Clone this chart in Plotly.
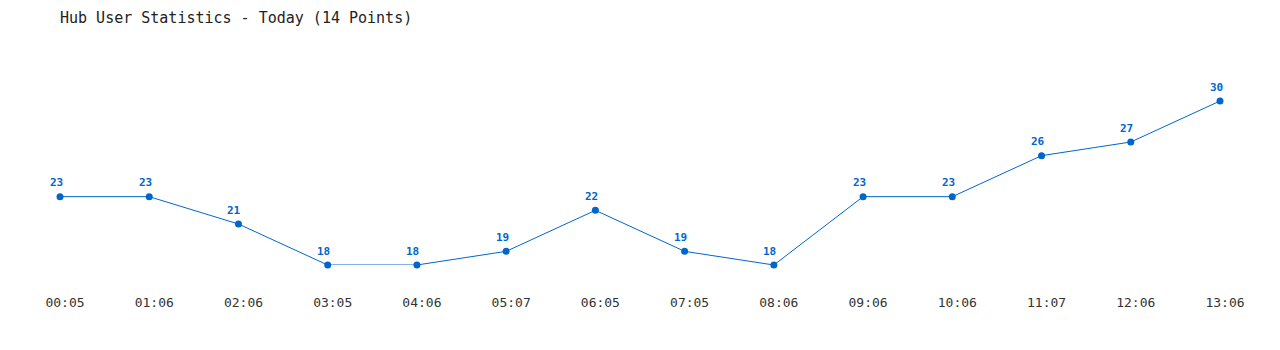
import plotly.graph_objects as go

times = ["00:05", "01:06", "02:06", "03:05", "04:06", "05:07", "06:05",
         "07:05", "08:06", "09:06", "10:06", "11:07", "12:06", "13:06"]
users = [23, 23, 21, 18, 18, 19, 22, 19, 18, 23, 23, 26, 27, 30]
title_text = "Hub User Statistics - Today (14 Points)"

color = "#0066cc"
fig = go.Figure()
fig.add_trace(go.Scatter(
    x=list(range(len(times))), y=users, mode="lines+markers",
    line=dict(color=color, width=1),
    marker=dict(color=color, size=7),
    cliponaxis=False, hoverinfo="skip",
))
for i, v in enumerate(users):
    fig.add_annotation(x=i, y=v, text=str(v), showarrow=False,
                       xshift=-4, yshift=14,
                       font=dict(family="DejaVu Sans Mono", size=11, color=color, weight="bold"))

fig.update_layout(
    width=1280, height=350,
    margin=dict(l=60, r=60, t=101, b=85),
    paper_bgcolor="white", plot_bgcolor="white",
    showlegend=False,
    title=dict(text=title_text, x=60/1280, xanchor="left", y=1-18/350, yanchor="middle",
               font=dict(family="DejaVu Sans Mono", size=15, color="#222222")),
)
fig.update_xaxes(range=[0, 13], tickmode="array", tickvals=list(range(len(times))),
                 ticktext=times, showgrid=False, zeroline=False, showline=False,
                 ticks="", ticklabelstandoff=28, ticklabelshift=5,
                 tickfont=dict(family="DejaVu Sans Mono", size=13, color="#333333"))
fig.update_yaxes(range=[18, 30], showgrid=False, zeroline=False, showline=False,
                 showticklabels=False, ticks="")
fig.write_html("out.html")
